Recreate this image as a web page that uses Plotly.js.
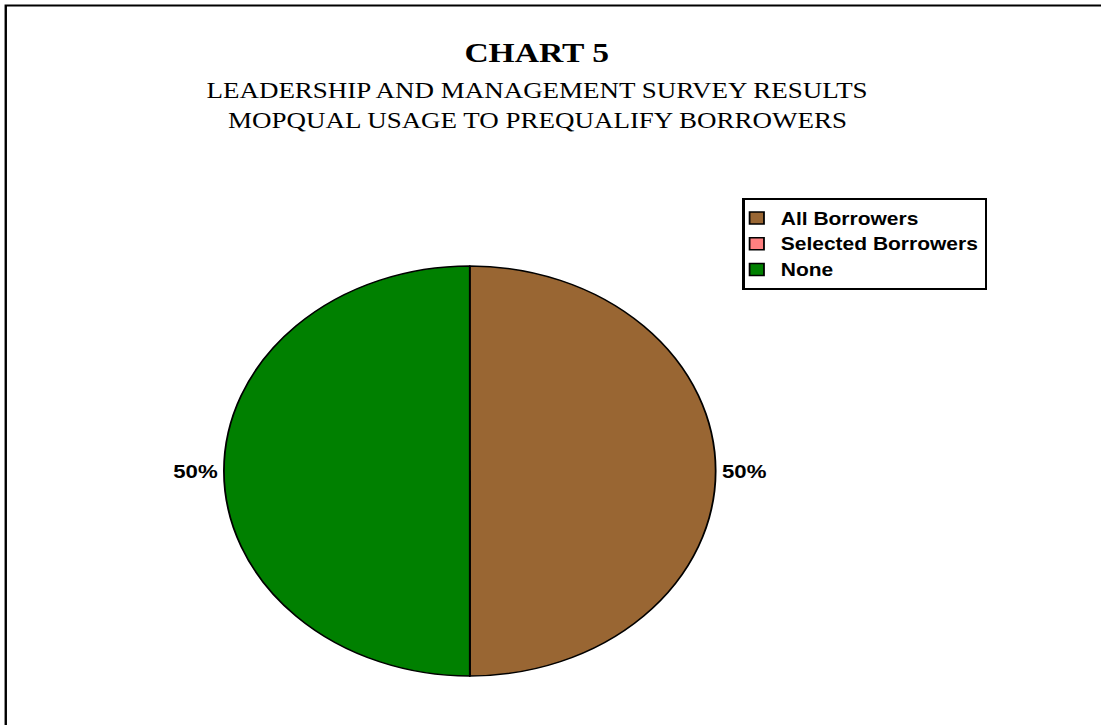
<!DOCTYPE html>
<html>
<head>
<meta charset="utf-8">
<script src="https://cdn.plot.ly/plotly-3.0.1.min.js"></script>
<style>
html,body{margin:0;padding:0;background:#fff;overflow:hidden;width:1101px;height:725px;}
#chart{width:918px;height:725px;transform:scaleX(1.19935);transform-origin:0 0;}
</style>
</head>
<body>
<div id="chart"></div>
<script>
// ---- data ----
const categories = ['All Borrowers', 'Selected Borrowers', 'None'];
const values = [50, 0, 50];
const colors = ['#996633', '#FF8080', '#008000'];
const titleMain = 'CHART 5';
const subtitle1 = 'LEADERSHIP AND MANAGEMENT SURVEY RESULTS';
const subtitle2 = 'MOPQUAL USAGE TO PREQUALIFY BORROWERS';

// The original picture is a circular pie stretched horizontally; the page
// is drawn at 918px wide and stretched to 1101px with CSS.
const W = 918, H = 725;
const total = values.reduce((a, b) => a + b, 0);
const pctText = values.map(v => v > 0 ? '<b>' + Math.round(v / total * 100) + '%</b>' : '');

const cx = 391.7, r = 205;
const traces = [{
  type: 'pie',
  labels: categories,
  values: values,
  text: pctText,
  textinfo: 'text',
  textposition: 'outside',
  sort: false,
  direction: 'clockwise',
  rotation: 0,
  hoverinfo: 'skip',
  marker: {colors: colors, line: {color: '#000', width: 1.5}},
  outsidetextfont: {family: 'Liberation Sans, Arial, sans-serif', size: 18.5, color: '#000'},
  domain: {x: [(cx - r) / W, (cx + r) / W], y: [49 / H, 459 / H]}
}];

const serif = 'Liberation Serif, Times New Roman, serif';
const tx = 447.5 / W;
const layout = {
  width: W, height: H,
  margin: {l: 0, r: 0, t: 0, b: 0},
  paper_bgcolor: '#fff',
  hovermode: false,
  title: {
    text: '<b>' + titleMain + '</b>',
    x: tx, xanchor: 'center', xref: 'paper',
    y: 1 - 52 / H, yanchor: 'middle', yref: 'container',
    font: {family: serif, size: 28, color: '#000'}
  },
  annotations: [
    {text: subtitle1, xref: 'paper', yref: 'paper', x: tx, y: 1 - 90 / H,
     xanchor: 'center', yanchor: 'middle', showarrow: false,
     font: {family: serif, size: 22.5, color: '#000'}},
    {text: subtitle2, xref: 'paper', yref: 'paper', x: tx, y: 1 - 120 / H,
     xanchor: 'center', yanchor: 'middle', showarrow: false,
     font: {family: serif, size: 22.5, color: '#000'}}
  ],
  showlegend: true,
  legend: {
    x: 619 / W, y: 1 - 198 / H, xanchor: 'left', yanchor: 'top',
    bgcolor: '#fff', bordercolor: '#000', borderwidth: 2,
    indentation: -10,
    traceorder: 'normal', itemclick: false, itemdoubleclick: false,
    font: {family: 'Liberation Sans, Arial, sans-serif', size: 17.5, color: '#000', weight: 'bold'}
  },
  shapes: [
    {type: 'rect', xref: 'paper', yref: 'paper', x0: 4.8 / W, x1: 1.02, y0: -0.02, y1: 1 - 5.5 / H,
     line: {color: '#000', width: 2}, fillcolor: 'rgba(0,0,0,0)', layer: 'below'}
  ]
};

Plotly.newPlot('chart', traces, layout, {displayModeBar: false, staticPlot: true});
</script>
</body>
</html>
